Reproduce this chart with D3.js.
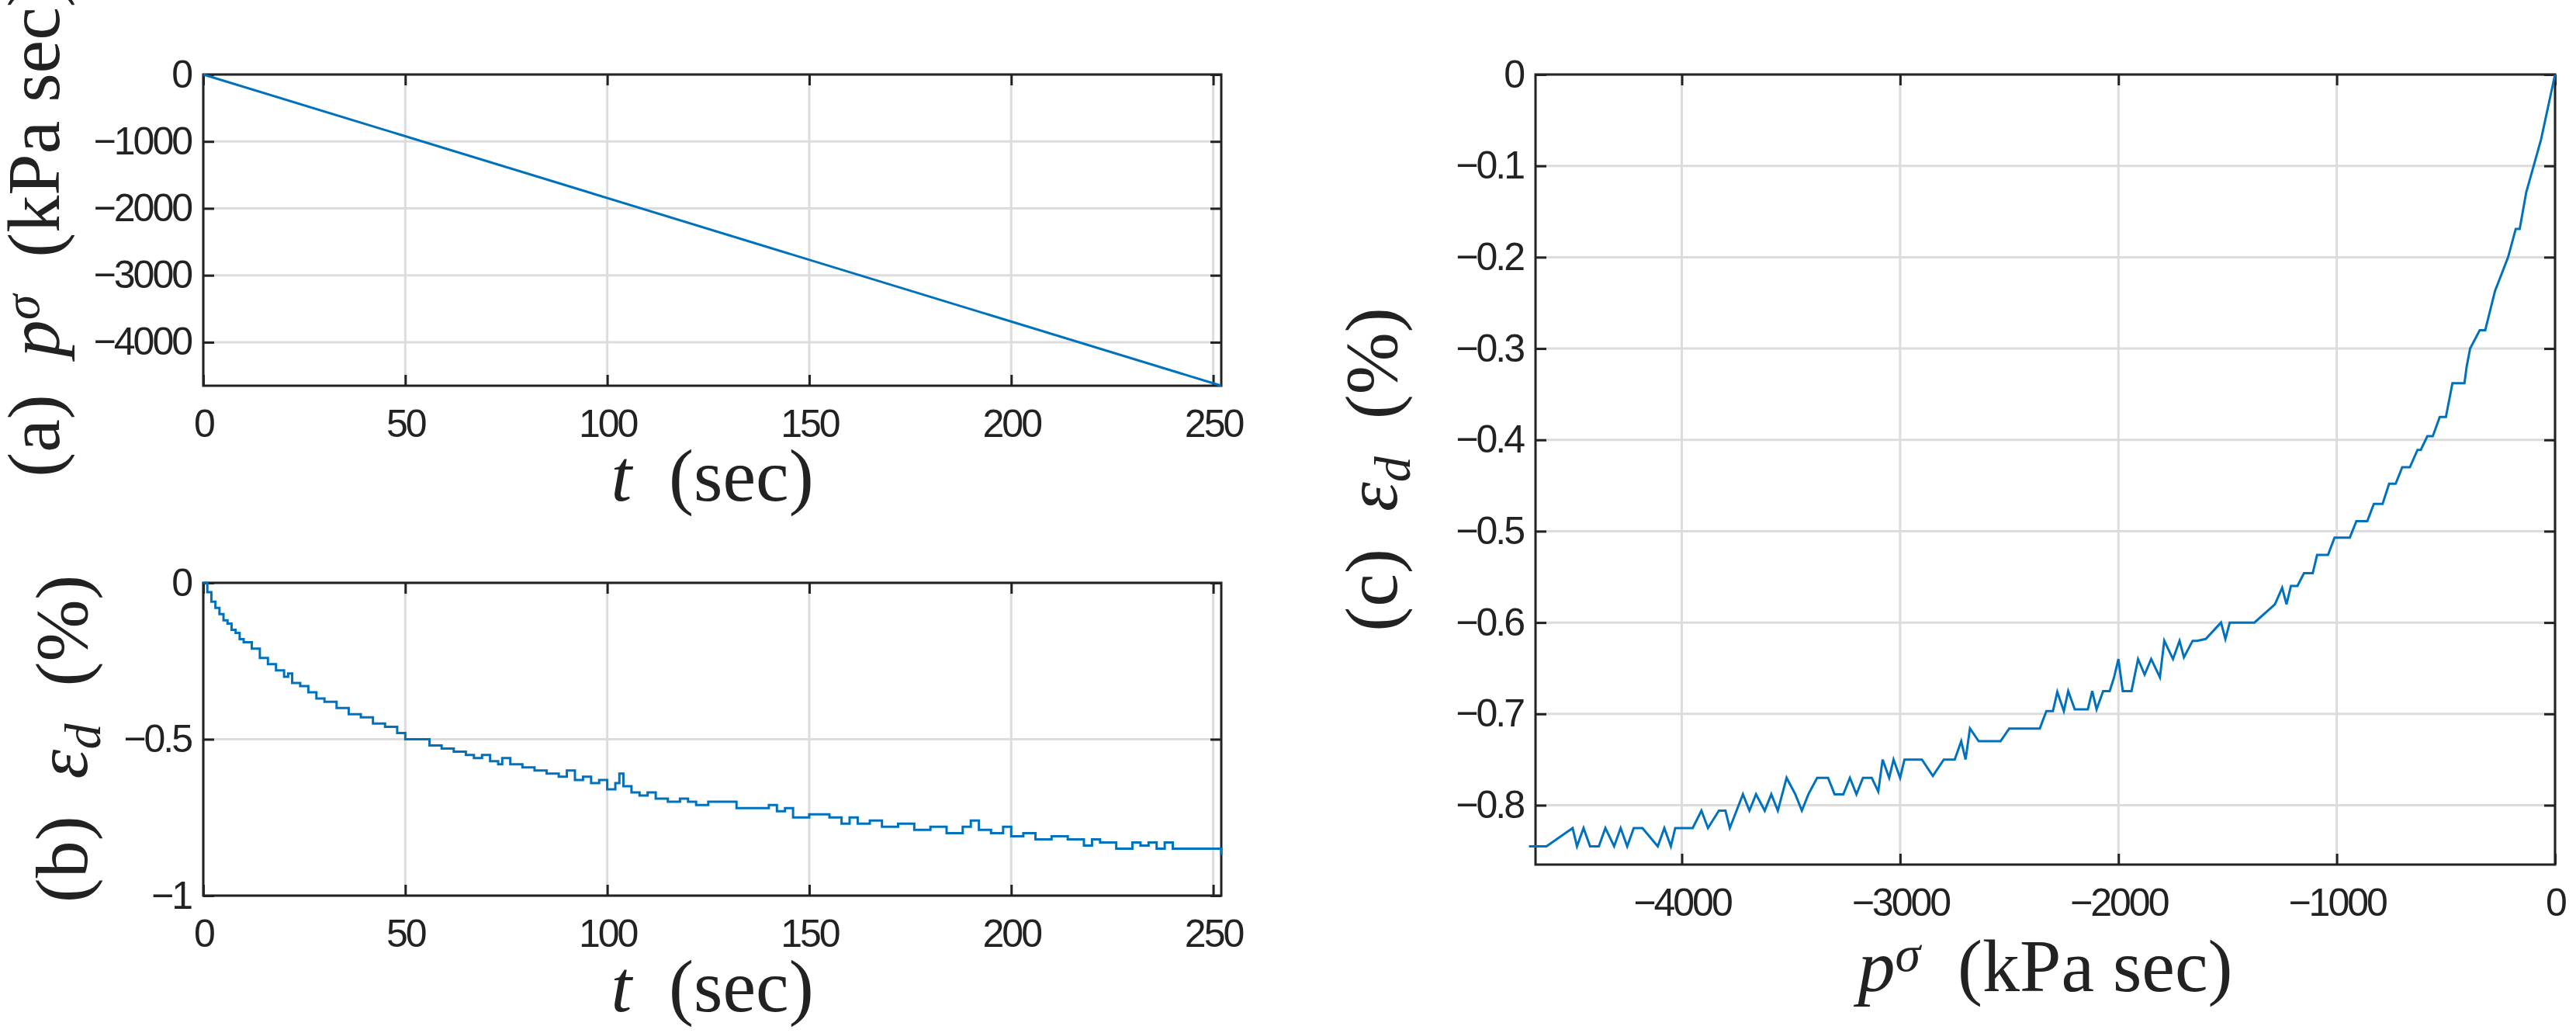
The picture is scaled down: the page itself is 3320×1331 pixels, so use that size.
<!DOCTYPE html>
<html>
<head>
<meta charset="utf-8">
<script src="https://cdn.jsdelivr.net/npm/d3@7"></script>
<style>
  body { margin: 0; background: #fff; }
  .tick text { font-family: 'Liberation Sans Narrow', 'Liberation Sans', sans-serif; font-size: 50px; letter-spacing: -3px; fill: #222; }
  .lab { font-family: 'Liberation Serif', 'DejaVu Serif', serif; font-size: 96px; fill: #222; }
</style>
</head>
<body>
<svg id="fig" width="3320" height="1331"></svg>
<script>
// panel (a): p^sigma vs t
const tA = [0, 252];
const pA = [0, -4650];

// panel (b): eps_d vs t
const tB = [0, 1, 2, 3, 4, 5, 6, 7, 8, 9, 10, 12, 14, 16, 18, 20, 21, 22, 24, 26, 28, 30, 33, 36, 39, 42, 45, 48, 50, 53, 56, 59, 62, 65, 67, 69, 71, 73, 74, 76, 79, 82, 85, 88, 90, 92, 94, 96, 98, 100, 102, 103, 104, 106, 108, 110, 112, 115, 118, 120, 122, 125, 128, 132, 136, 140, 142, 144, 146, 150, 155, 158, 160, 162, 165, 168, 172, 176, 180, 184, 188, 190, 192, 195, 198, 200, 203, 206, 210, 214, 218, 220, 222, 226, 230, 232, 234, 236, 238, 240, 244, 248, 250, 252];
const eB = [0, -0.03, -0.06, -0.08, -0.1, -0.12, -0.13, -0.15, -0.16, -0.18, -0.19, -0.21, -0.24, -0.26, -0.28, -0.3, -0.29, -0.32, -0.33, -0.35, -0.37, -0.38, -0.4, -0.42, -0.43, -0.45, -0.46, -0.48, -0.5, -0.5, -0.52, -0.53, -0.54, -0.55, -0.56, -0.55, -0.57, -0.58, -0.56, -0.58, -0.59, -0.6, -0.61, -0.62, -0.6, -0.63, -0.62, -0.64, -0.63, -0.66, -0.64, -0.61, -0.65, -0.67, -0.68, -0.67, -0.69, -0.7, -0.69, -0.7, -0.71, -0.7, -0.7, -0.72, -0.72, -0.71, -0.73, -0.72, -0.75, -0.74, -0.75, -0.77, -0.75, -0.77, -0.76, -0.78, -0.77, -0.79, -0.78, -0.8, -0.78, -0.76, -0.79, -0.8, -0.78, -0.81, -0.8, -0.82, -0.81, -0.82, -0.84, -0.82, -0.83, -0.85, -0.83, -0.84, -0.83, -0.85, -0.83, -0.85, -0.85, -0.85, -0.85, -0.87];

// panel (c): eps_d vs p^sigma
const pC = [0, -64, -132, -162, -180, -215, -275, -320, -345, -389, -405, -415, -470, -500, -528, -560, -585, -615, -630, -665, -700, -730, -760, -790, -830, -860, -910, -940, -1010, -1040, -1090, -1110, -1150, -1180, -1210, -1230, -1250, -1283, -1377, -1490, -1510, -1530, -1600, -1640, -1660, -1700, -1720, -1750, -1790, -1810, -1850, -1880, -1910, -1940, -1980, -2000, -2020, -2040, -2070, -2100, -2120, -2140, -2200, -2230, -2250, -2280, -2300, -2330, -2360, -2500, -2540, -2640, -2680, -2700, -2720, -2750, -2800, -2850, -2900, -2920, -2980, -3000, -3030, -3050, -3080, -3100, -3130, -3170, -3200, -3230, -3260, -3300, -3330, -3380, -3420, -3450, -3480, -3520, -3560, -3590, -3620, -3660, -3690, -3720, -3780, -3800, -3830, -3880, -3910, -3950, -3990, -4030, -4050, -4080, -4110, -4180, -4220, -4250, -4280, -4310, -4350, -4380, -4420, -4450, -4480, -4500, -4620, -4650, -4700];
const eC = [0, -0.071, -0.129, -0.169, -0.169, -0.2, -0.237, -0.28, -0.28, -0.3, -0.32, -0.338, -0.338, -0.375, -0.375, -0.396, -0.396, -0.411, -0.411, -0.43, -0.43, -0.448, -0.448, -0.47, -0.47, -0.489, -0.489, -0.507, -0.507, -0.526, -0.526, -0.546, -0.546, -0.56, -0.56, -0.58, -0.562, -0.58, -0.6, -0.6, -0.618, -0.6, -0.618, -0.62, -0.62, -0.638, -0.62, -0.64, -0.62, -0.66, -0.64, -0.657, -0.64, -0.675, -0.675, -0.64, -0.66, -0.675, -0.675, -0.695, -0.675, -0.695, -0.695, -0.675, -0.697, -0.676, -0.697, -0.697, -0.716, -0.716, -0.73, -0.73, -0.716, -0.75, -0.73, -0.75, -0.75, -0.768, -0.75, -0.75, -0.75, -0.77, -0.75, -0.77, -0.75, -0.785, -0.77, -0.77, -0.788, -0.77, -0.788, -0.788, -0.77, -0.77, -0.788, -0.806, -0.788, -0.77, -0.806, -0.788, -0.806, -0.788, -0.806, -0.788, -0.825, -0.806, -0.806, -0.825, -0.806, -0.825, -0.825, -0.825, -0.845, -0.825, -0.845, -0.825, -0.825, -0.845, -0.825, -0.845, -0.825, -0.845, -0.845, -0.825, -0.845, -0.825, -0.845, -0.845, -0.845, -0.845, -0.865];

const svg = d3.select('#fig');
const blue = '#0072BD';

function panel({ x0, x1, y0, y1, xDom, yDom, xTicks, yTicks, xs, ys, curve }) {
  const x = d3.scaleLinear().domain(xDom).range([x0, x1]);
  const y = d3.scaleLinear().domain(yDom).range([y1, y0]);
  const g = svg.append('g');
  // grid
  g.append('g').selectAll('line').data(xTicks).join('line')
    .attr('x1', d => x(d)).attr('x2', d => x(d)).attr('y1', y0).attr('y2', y1)
    .attr('stroke', '#dcdcdc').attr('stroke-width', 3);
  g.append('g').selectAll('line').data(yTicks).join('line')
    .attr('y1', d => y(d)).attr('y2', d => y(d)).attr('x1', x0).attr('x2', x1)
    .attr('stroke', '#dcdcdc').attr('stroke-width', 3);
  const fmt = d => d3.format('')(d).replace('-', '\u2212');
  const ax = (sel, axis) => sel.call(axis).call(s => s.select('.domain').remove())
    .call(s => s.selectAll('.tick line').attr('stroke', '#222').attr('stroke-width', 3));
  g.append('g').attr('transform', `translate(0,${y1})`)
    .call(s => ax(s, d3.axisBottom(x).tickValues(xTicks).tickFormat(fmt).tickSizeInner(-14).tickPadding(30)));
  g.append('g').attr('transform', `translate(0,${y0})`)
    .call(s => ax(s, d3.axisTop(x).tickValues(xTicks).tickFormat('').tickSizeInner(-14)));
  g.append('g').attr('transform', `translate(${x0},0)`)
    .call(s => ax(s, d3.axisLeft(y).tickValues(yTicks).tickFormat(fmt).tickSizeInner(-14).tickPadding(16)));
  g.append('g').attr('transform', `translate(${x1},0)`)
    .call(s => ax(s, d3.axisRight(y).tickValues(yTicks).tickFormat('').tickSizeInner(-14)));
  g.append('rect').attr('x', x0).attr('y', y0).attr('width', x1 - x0).attr('height', y1 - y0)
    .attr('fill', 'none').attr('stroke', '#222').attr('stroke-width', 3);
  const line = d3.line().curve(curve || d3.curveLinear).x(i => x(xs[i])).y(i => y(ys[i]));
  g.append('path').attr('d', line(d3.range(xs.length)))
    .attr('fill', 'none').attr('stroke', blue).attr('stroke-width', 3);
  return g;
}

panel({ x0: 262, x1: 1574, y0: 96, y1: 497, xDom: [0, 252], yDom: [-4650, 0],
  xTicks: [0, 50, 100, 150, 200, 250], yTicks: [0, -1000, -2000, -3000, -4000], xs: tA, ys: pA });
panel({ x0: 262, x1: 1574, y0: 751, y1: 1154, xDom: [0, 252], yDom: [-1, 0],
  xTicks: [0, 50, 100, 150, 200, 250], yTicks: [0, -0.5, -1], xs: tB, ys: eB, curve: d3.curveStepAfter });
panel({ x0: 1979, x1: 3293, y0: 96, y1: 1114, xDom: [-4670, 0], yDom: [-0.865, 0],
  xTicks: [-4000, -3000, -2000, -1000, 0], yTicks: [0, -0.1, -0.2, -0.3, -0.4, -0.5, -0.6, -0.7, -0.8], xs: pC, ys: eC });

function label(x, y, rot, parts) {
  const t = svg.append('text').attr('class', 'lab').attr('text-anchor', 'middle')
    .attr('transform', `translate(${x},${y}) rotate(${rot})`);
  parts.forEach(p => {
    const s = t.append('tspan').text(p.t);
    if (p.i) s.attr('font-style', 'italic');
    if (p.sup) s.attr('baseline-shift', '40%').attr('font-size', '66px');
    if (p.sub) s.attr('baseline-shift', '-25%').attr('font-size', '66px');
  });
}
const tLab = [{ t: 't', i: true }, { t: '\u2002(sec)' }];
label(918, 645, 0, tLab);
label(918, 1303, 0, tLab);
label(2636, 1277, 0, [{ t: 'p', i: true }, { t: '\u03C3', i: true, sup: true }, { t: '\u2002(kPa sec)' }]);
label(76, 296, -90, [{ t: '(a)\u2002' }, { t: 'p', i: true }, { t: '\u03C3', i: true, sup: true }, { t: '\u2002(kPa sec)' }]);
label(112, 952, -90, [{ t: '(b)\u2002' }, { t: '\u03B5', i: true }, { t: 'd', i: true, sub: true }, { t: '\u2002(%)' }]);
label(1800, 605, -90, [{ t: '(c)\u2002' }, { t: '\u03B5', i: true }, { t: 'd', i: true, sub: true }, { t: '\u2002(%)' }]);
</script>
</body>
</html>
